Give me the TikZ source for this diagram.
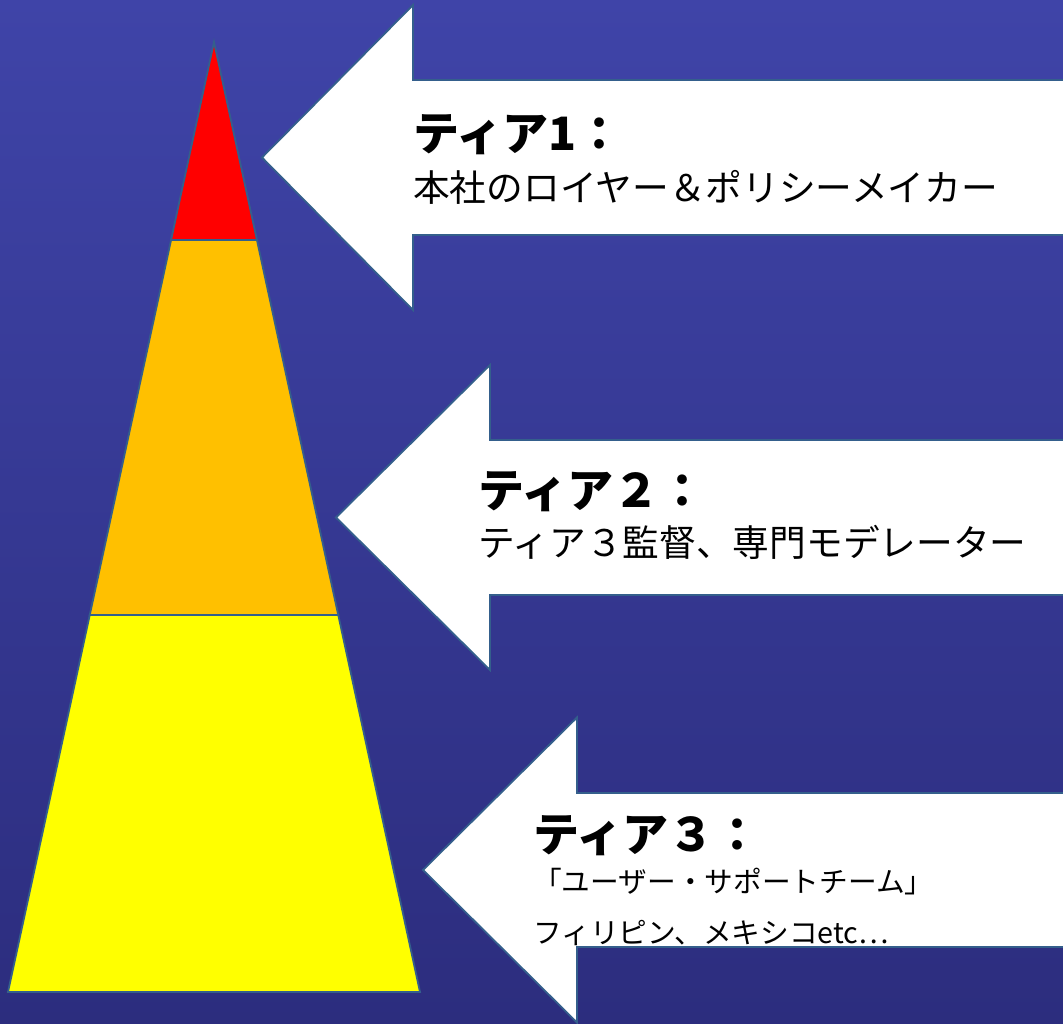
\documentclass[tikz,border=0pt]{standalone}
\usepackage{fontspec}
\newfontfamily\jp{Noto Sans CJK JP}
\definecolor{bgtop}{RGB}{63,68,168}
\definecolor{bgbot}{RGB}{44,45,126}
\definecolor{edgec}{RGB}{52,95,140}
\definecolor{tierred}{RGB}{255,0,0}
\definecolor{tierorange}{RGB}{255,192,0}
\definecolor{tieryellow}{RGB}{255,255,0}
\tikzset{
  edgeline/.style={draw=edgec, line width=1.8pt, line join=miter},
  bigarrow/.style={edgeline, fill=white},
  head/.style={anchor=base west, inner sep=0pt, font=\jp\bfseries\fontsize{46}{50}\selectfont, text=black},
  sub/.style={anchor=base west, inner sep=0pt, font=\jp\fontsize{36.7}{40}\selectfont, text=black},
  subsmall/.style={anchor=base west, inner sep=0pt, font=\jp\fontsize{28.7}{32}\selectfont, text=black}
}
\begin{document}
\begin{tikzpicture}[x=1pt,y=-1pt]
\useasboundingbox (0,0) rectangle (1063,1024);
\clip (0,0) rectangle (1063,1024);
\shade[top color=bgtop, bottom color=bgbot] (0,0) rectangle (1063,1024);
% pyramid
\coordinate (apex) at (214,42);
\coordinate (l1) at (171.07,240);
\coordinate (r1) at (256.93,240);
\coordinate (l2) at (89.75,615);
\coordinate (r2) at (338.25,615);
\coordinate (bl) at (8,992);
\coordinate (br) at (420,992);
\draw[edgeline, fill=tieryellow] (l2) -- (r2) -- (br) -- (bl) -- cycle;
\draw[edgeline, fill=tierorange] (l1) -- (r1) -- (r2) -- (l2) -- cycle;
\draw[edgeline, fill=tierred] (apex) -- (r1) -- (l1) -- cycle;
% arrows
\draw[bigarrow] (1070,80) -- (413,80) -- (413,5) -- (262,157.5) -- (413,310) -- (413,235) -- (1070,235);
\draw[bigarrow] (1070,440) -- (490,440) -- (490,365) -- (336,517.5) -- (490,670) -- (490,595) -- (1070,595);
\draw[bigarrow] (1070,793) -- (577,793) -- (577,717.5) -- (423,870) -- (577,1022.5) -- (577,947) -- (1070,947);
% texts
\node[head] (t1h) at (413,151) {ティア1：};
\node[sub] (t1s) at (413,202) {本社のロイヤー＆ポリシーメイカー};
\node[head] (t2h) at (478,507) {ティア２：};
\node[sub] (t2s) at (478,556) {ティア３監督、専門モデレーター};
\node[head] (t3h) at (533,851) {ティア３：};
\node[subsmall] (t3s) at (533,892) {「ユーザー・サポートチーム」};
\node[subsmall] (t3t) at (533,943) {フィリピン、メキシコetc…};
\end{tikzpicture}
\end{document}
